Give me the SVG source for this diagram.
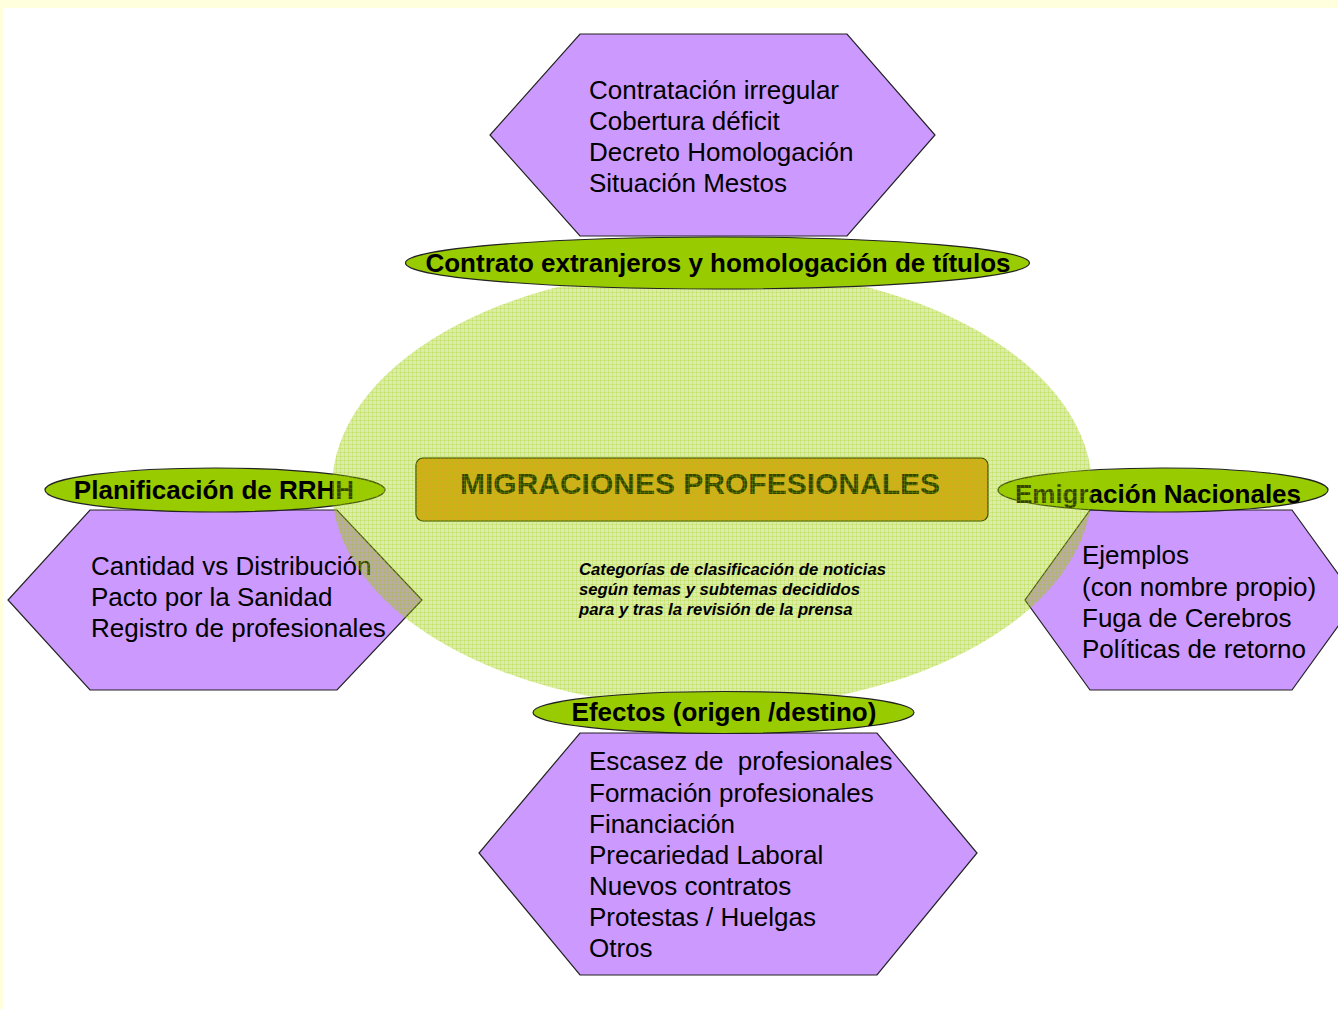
<svg xmlns="http://www.w3.org/2000/svg" width="1338" height="1009" viewBox="0 0 1338 1009">
<defs>
<style>
.hex{fill:#cc99ff;stroke:#222;stroke-width:1.2}
.lab{fill:#99cc00;stroke:#222;stroke-width:1.2}
.t{font-family:"Liberation Sans",Arial,sans-serif;font-size:26px;fill:#000}
.b{font-family:"Liberation Sans",Arial,sans-serif;font-size:26px;font-weight:bold;fill:#000}
.it{font-family:"Liberation Sans",Arial,sans-serif;font-size:16.7px;font-weight:bold;font-style:italic;fill:#000}
</style>
<pattern id="grid" width="4" height="4" patternUnits="userSpaceOnUse">
<rect width="4" height="4" fill="#99cc00" fill-opacity="0.34"/>
<path d="M0 0.5H4M0.5 0V4" stroke="#99cc00" stroke-opacity="0.22" stroke-width="1"/>
</pattern>
</defs>
<rect width="1338" height="1009" fill="#fff"/>
<rect width="1338" height="8" fill="#ffffdd"/>
<rect width="3" height="1009" fill="#ffffdd"/>

<g id="planificacion">
<polygon class="hex" points="90,510 337,510 422,600 337,690 90,690 8,600"/>
<text class="t" x="91" y="575">Cantidad vs Distribución</text>
<text class="t" x="91" y="606">Pacto por la Sanidad</text>
<text class="t" x="91" y="637">Registro de profesionales</text>
<ellipse class="lab" cx="215" cy="490" rx="170" ry="22"/>
<text class="b" x="214" y="499" text-anchor="middle">Planificación de RRHH</text>
</g>

<g id="emigracion">
<polygon class="hex" points="1090,510 1292,510 1357,600 1292,690 1090,690 1025,600"/>
<text class="t" x="1082" y="564">Ejemplos</text>
<text class="t" x="1082" y="596">(con nombre propio)</text>
<text class="t" x="1082" y="627">Fuga de Cerebros</text>
<text class="t" x="1082" y="658">Políticas de retorno</text>
<ellipse class="lab" cx="1163" cy="490" rx="165" ry="22"/>
<text class="b" x="1158" y="503" text-anchor="middle">Emigración Nacionales</text>
</g>

<g id="centro">
<rect x="416" y="458" width="572" height="63" rx="7" fill="#f59c2c" stroke="#000" stroke-width="1.2"/>
<text x="700" y="494" text-anchor="middle" font-family="Liberation Sans,Arial,sans-serif" font-size="30" font-weight="bold" fill="#000">MIGRACIONES PROFESIONALES</text>
</g>

<g id="fondo">
<ellipse cx="712" cy="488" rx="380" ry="220" fill="url(#grid)"/>
</g>

<g id="contrato">
<polygon class="hex" points="580,34 847,34 935,135 847,236 580,236 490,135"/>
<text class="t" x="589" y="99">Contratación irregular</text>
<text class="t" x="589" y="130">Cobertura déficit</text>
<text class="t" x="589" y="161">Decreto Homologación</text>
<text class="t" x="589" y="192">Situación Mestos</text>
<ellipse class="lab" cx="717.5" cy="263" rx="312" ry="26"/>
<text class="b" x="718" y="272" text-anchor="middle">Contrato extranjeros y homologación de títulos</text>
</g>

<g id="efectos">
<polygon class="hex" points="580,733 877,733 977,853 877,975 580,975 479,853"/>
<text class="t" x="589" y="770" xml:space="preserve">Escasez de  profesionales</text>
<text class="t" x="589" y="802">Formación profesionales</text>
<text class="t" x="589" y="833">Financiación</text>
<text class="t" x="589" y="864">Precariedad Laboral</text>
<text class="t" x="589" y="895">Nuevos contratos</text>
<text class="t" x="589" y="926">Protestas / Huelgas</text>
<text class="t" x="589" y="957">Otros</text>
<ellipse class="lab" cx="723.5" cy="712.5" rx="190.5" ry="21"/>
<text class="b" x="724" y="721" text-anchor="middle">Efectos (origen /destino)</text>
</g>

<g id="nota">
<text class="it" x="579" y="575">Categorías de clasificación de noticias</text>
<text class="it" x="579" y="595">según temas y subtemas decididos</text>
<text class="it" x="579" y="615">para y tras la revisión de la prensa</text>
</g>
</svg>
